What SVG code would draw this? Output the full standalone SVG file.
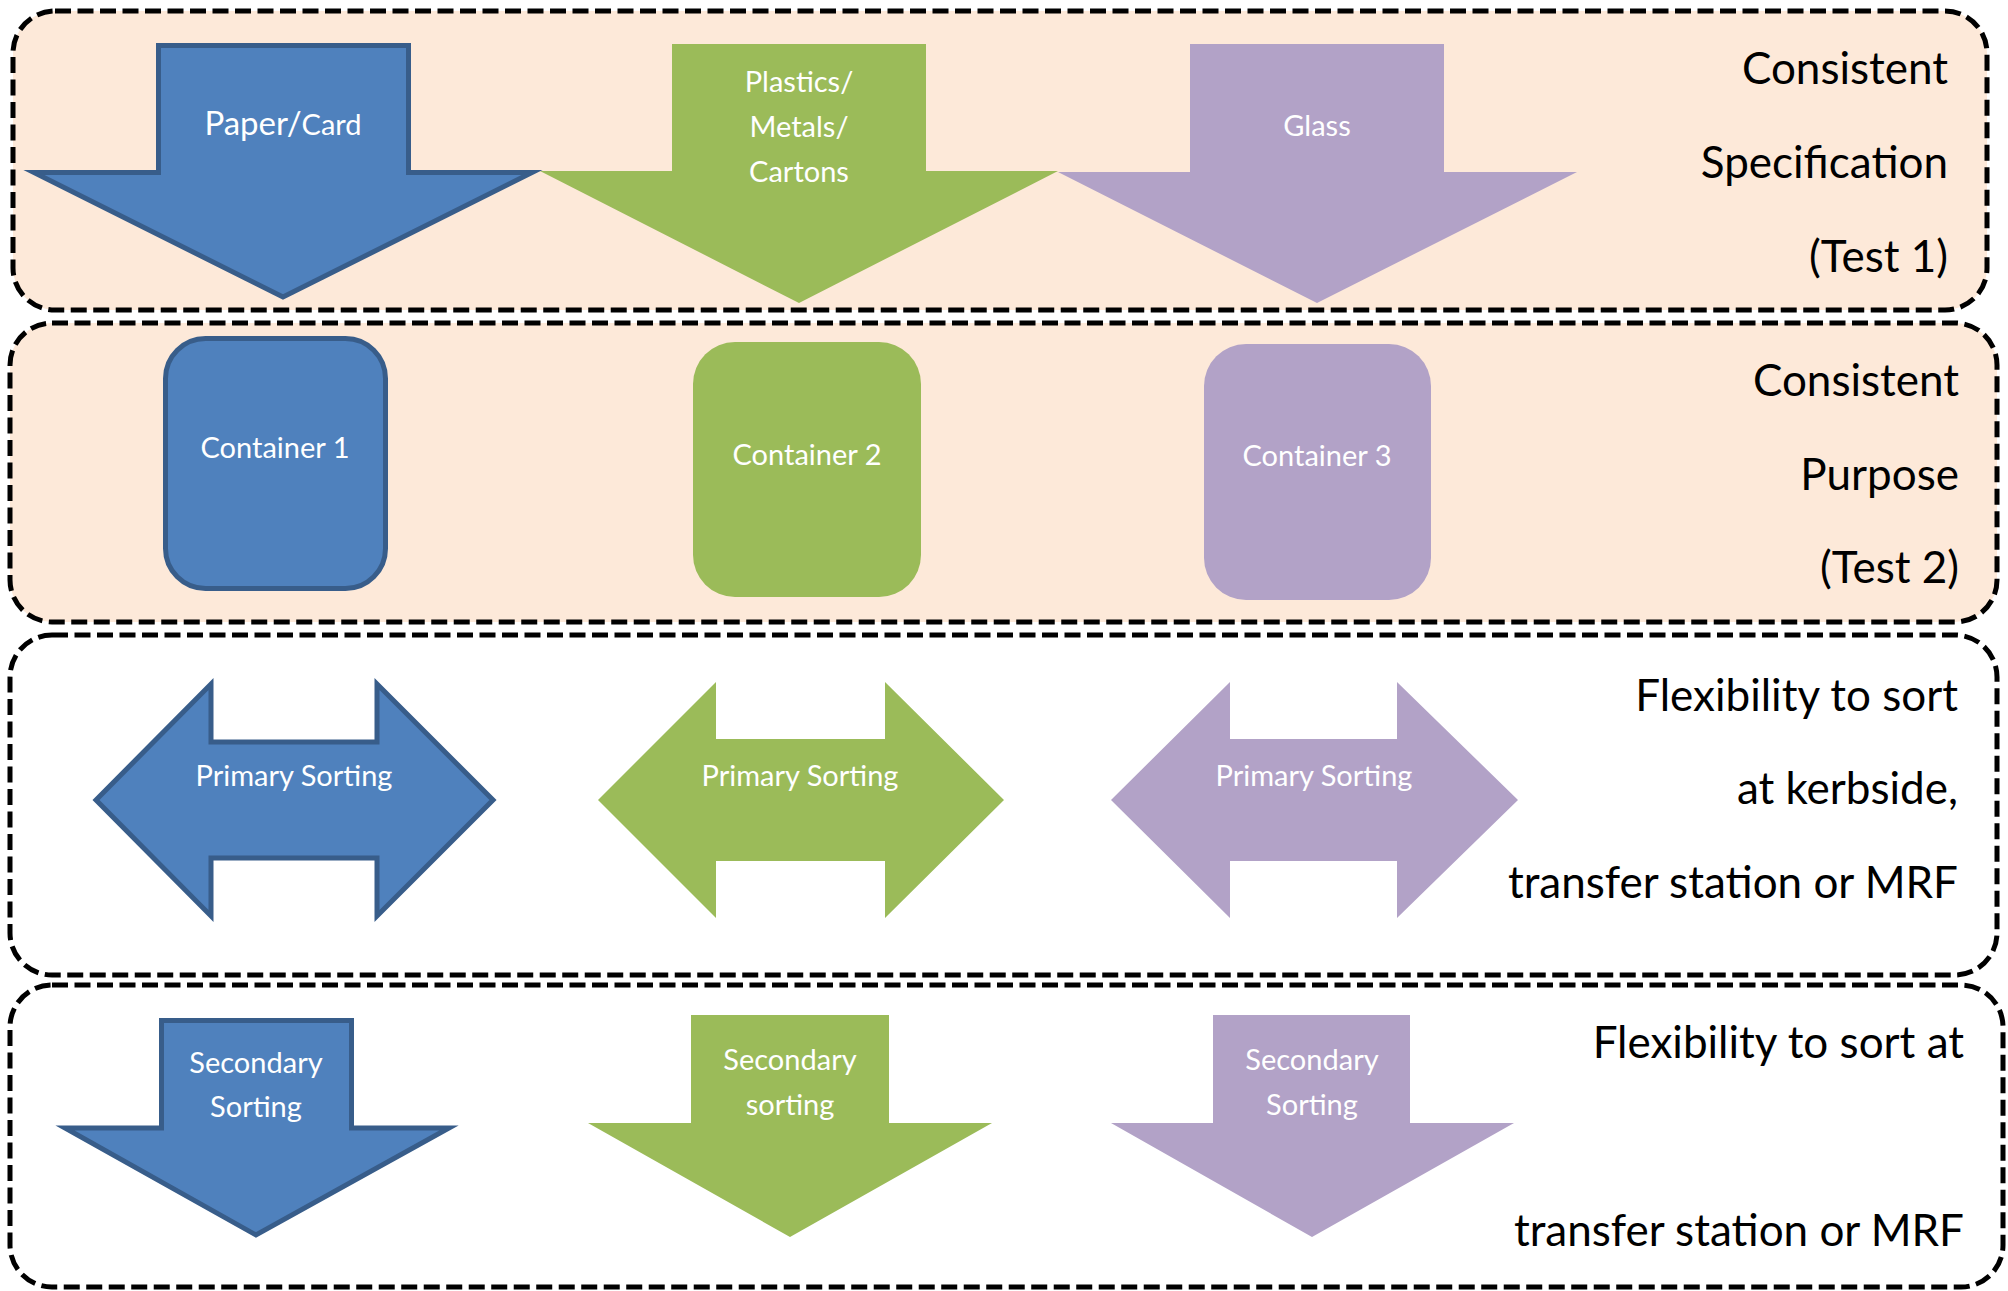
<svg xmlns="http://www.w3.org/2000/svg" width="2008" height="1291" viewBox="0 0 2008 1291">
<defs>
<style>
.band{stroke:#000;stroke-width:5;stroke-dasharray:16 6.5}
.peach{fill:#FDE9D9}
.clear{fill:#FFFFFF}
.blue{fill:#4F81BD;stroke:#385D8A;stroke-width:5;stroke-miterlimit:12}
.green{fill:#9BBB59}
.purple{fill:#B2A2C7}
.lbl{font-family:Lato,"Open Sans","Liberation Sans",sans-serif;fill:#FFFFFF;text-anchor:middle;font-size:29px}
.side{font-family:Lato,"Open Sans","Liberation Sans",sans-serif;fill:#000000;text-anchor:end;font-size:44px}
</style>
</defs>
<rect width="2008" height="1291" fill="#FFFFFF"/>
<g id="bands">
<rect id="band1" class="band peach" x="13" y="11" width="1974" height="299" rx="42"/>
<rect id="band2" class="band peach" x="10" y="323" width="1987" height="299" rx="42"/>
<rect id="band3" class="band clear" x="10" y="635" width="1987" height="340" rx="42"/>
<rect id="band4" class="band clear" x="10" y="985" width="1993" height="302" rx="42"/>
</g>
<g id="connectors"></g>
<g id="row1">
<g id="paper">
<polygon class="blue" points="158.5,45.5 408.5,45.5 408.5,172.5 532,172.5 283,297 34,172.5 158.5,172.5"/>
<text class="lbl" x="283" y="135"><tspan font-size="33">Paper/</tspan><tspan font-size="29">Card</tspan></text>
</g>
<g id="plastics">
<polygon class="green" points="672,44 926,44 926,171 1058,171 799,303 540,171 672,171"/>
<text class="lbl" x="799" y="92">Plastics/</text>
<text class="lbl" x="799" y="137">Metals/</text>
<text class="lbl" x="799" y="182">Cartons</text>
</g>
<g id="glass">
<polygon class="purple" points="1190,44 1444,44 1444,172 1577,172 1317,303 1058,172 1190,172"/>
<text class="lbl" x="1317" y="136" font-size="27">Glass</text>
</g>
<g id="label1">
<text class="side" x="1948" y="84">Consistent</text>
<text class="side" x="1948" y="178">Specification</text>
<text class="side" x="1948" y="272">(Test 1)</text>
</g>
</g>
<g id="row2">
<g id="container1">
<rect class="blue" x="165.5" y="338.5" width="220" height="250" rx="40"/>
<text class="lbl" x="275" y="458">Container 1</text>
</g>
<g id="container2">
<rect class="green" x="693" y="342" width="228" height="255" rx="42"/>
<text class="lbl" x="807" y="465">Container 2</text>
</g>
<g id="container3">
<rect class="purple" x="1204" y="344" width="227" height="256" rx="42"/>
<text class="lbl" x="1317" y="466">Container 3</text>
</g>
<g id="label2">
<text class="side" x="1959" y="396">Consistent</text>
<text class="side" x="1959" y="490">Purpose</text>
<text class="side" x="1959" y="583">(Test 2)</text>
</g>
</g>
<g id="row3">
<g id="primary1">
<polygon class="blue" points="96,800 211,684 211,742 377,742 377,684 493,800 377,916 377,858 211,858 211,916"/>
<text class="lbl" x="294" y="786">Primary Sorting</text>
</g>
<g id="primary2">
<polygon class="green" points="598,800 716,682 716,739 885,739 885,682 1004,800 885,918 885,861 716,861 716,918"/>
<text class="lbl" x="800" y="786">Primary Sorting</text>
</g>
<g id="primary3">
<polygon class="purple" points="1111,800 1230,682 1230,739 1397,739 1397,682 1518,800 1397,918 1397,861 1230,861 1230,918"/>
<text class="lbl" x="1314" y="786">Primary Sorting</text>
</g>
<g id="label3">
<text class="side" x="1958" y="711">Flexibility to sort</text>
<text class="side" x="1958" y="804">at kerbside,</text>
<text class="side" x="1958" y="898">transfer station or MRF</text>
</g>
</g>
<g id="row4">
<g id="secondary1">
<polygon class="blue" points="161.5,1020.5 351.5,1020.5 351.5,1128 449,1128 256,1235 65,1128 161.5,1128"/>
<text class="lbl" x="256" y="1073">Secondary</text>
<text class="lbl" x="256" y="1117">Sorting</text>
</g>
<g id="secondary2">
<polygon class="green" points="691,1015 889,1015 889,1123 992,1123 790,1237 588,1123 691,1123"/>
<text class="lbl" x="790" y="1070">Secondary</text>
<text class="lbl" x="790" y="1115">sorting</text>
</g>
<g id="secondary3">
<polygon class="purple" points="1213,1015 1410,1015 1410,1123 1514,1123 1312,1237 1111,1123 1213,1123"/>
<text class="lbl" x="1312" y="1070">Secondary</text>
<text class="lbl" x="1312" y="1115">Sorting</text>
</g>
<g id="label4">
<text class="side" x="1964" y="1058">Flexibility to sort at</text>
<text class="side" x="1964" y="1246">transfer station or MRF</text>
</g>
</g>
</svg>
